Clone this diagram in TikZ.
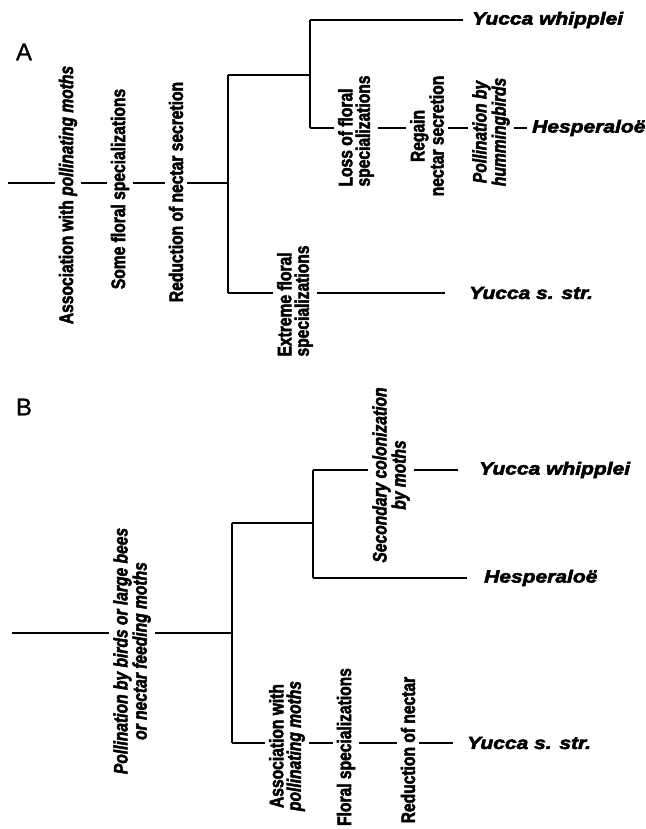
\documentclass[tikz,border=0pt]{standalone}
\usepackage{fontspec}
\setmainfont{Liberation Sans}
\newfontfamily\cf[FakeStretch=0.80,FakeBold=2.5,UprightFont={Liberation Sans Bold},ItalicFont={Liberation Sans Bold Italic}]{Liberation Sans}
\newfontfamily\tf[FakeStretch=1.2,FakeBold=3.2,UprightFont={Liberation Sans Bold Italic},ItalicFont={Liberation Sans Bold Italic}]{Liberation Sans}
\newfontfamily\pf[FakeBold=1.0]{Liberation Sans}
\begin{document}
\begin{tikzpicture}[x=1pt,y=-1pt,
  br/.style={line width=1.8pt},
  lbl/.style={rotate=90, font=\cf\fontsize{19.5}{17.5}\selectfont, inner sep=4pt, align=center},
  lbll/.style={lbl, align=left},
  taxon/.style={anchor=west, font=\tf\fontsize{17.5}{20}\selectfont, inner sep=0pt},
  panel/.style={font=\pf\fontsize{24}{24}\selectfont, inner sep=0pt}]
\useasboundingbox (0,0) rectangle (645,829);

% ---------------- Panel A ----------------
\node[panel] (labA) at (24,52) {A};
\coordinate (rA) at (8,183);
\node[lbl] (a1) at (68,195) {Association with \textit{pollinating moths}};
\node[lbl] (a2) at (120,189) {Some floral specializations};
\node[lbl] (a3) at (176,192) {Reduction of nectar secretion};
\coordinate (kA) at (228,183);
\coordinate (kAu) at (228,75);
\coordinate (kAd) at (228,293);
\coordinate (mA) at (310,75);
\coordinate (mAu) at (310,20);
\coordinate (mAd) at (310,128);
\node[taxon] (tA1) at (472,20) {Yucca whipplei};
\node[lbll] (a4) at (356,131) {Loss of floral\\specializations};
\node[lbl] (a5) at (427,136) {Regain\\nectar secretion};
\node[lbl] (a6) at (491,132) {\itshape Pollination by\\\itshape hummingbirds};
\node[taxon] (tA2) at (532,128) {Hesperalo\"e};
\node[lbll] (a7) at (295,301) {Extreme floral\\specializations};
\node[taxon] (tA3) at (469,293) {Yucca s. str.};

\draw[br] (rA) -- (rA -| a1.north);
\draw[br] (rA -| a1.south) -- (rA -| a2.north);
\draw[br] (rA -| a2.south) -- (rA -| a3.north);
\draw[br] (rA -| a3.south) -- (kA);
\draw[br] (kAu) -- (kAd);
\draw[br] (kAu) -- (mA);
\draw[br] (mAu) -- (mAd);
\draw[br, shorten >=9pt] (mAu) -- (tA1.west);
\draw[br] (mAd) -- (mAd -| a4.north);
\draw[br] (mAd -| a4.south) -- (mAd -| a5.north);
\draw[br] (mAd -| a5.south) -- (mAd -| a6.north);
\draw[br, shorten >=5pt] (mAd -| a6.south) -- (tA2.west);
\draw[br] (kAd) -- (kAd -| a7.north);
\draw[br, shorten >=24pt] (kAd -| a7.south) -- (tA3.west);

% ---------------- Panel B ----------------
\node[panel] (labB) at (24,407) {B};
\coordinate (rB) at (12,633);
\node[lbl] (b1) at (132,651) {\itshape Pollination by birds or large bees\\\itshape or nectar feeding moths};
\coordinate (kB) at (232,633);
\coordinate (kBu) at (232,523);
\coordinate (kBd) at (232,743);
\coordinate (mB) at (313,523);
\coordinate (mBu) at (313,470);
\coordinate (mBd) at (313,578);
\node[lbl] (b2) at (391,475) {\itshape Secondary colonization\\\itshape by moths};
\node[taxon] (tB1) at (479,470) {Yucca whipplei};
\node[taxon] (tB2) at (484,578) {Hesperalo\"e};
\node[lbl] (b3) at (287,746) {Association with\\\itshape pollinating moths};
\node[lbl] (b4) at (346,747) {Floral specializations};
\node[lbl] (b5) at (408,750) {Reduction of nectar};
\node[taxon] (tB3) at (467,743) {Yucca s. str.};

\draw[br] (rB) -- (rB -| b1.north);
\draw[br] (rB -| b1.south) -- (kB);
\draw[br] (kBu) -- (kBd);
\draw[br] (kBu) -- (mB);
\draw[br] (mBu) -- (mBd);
\draw[br] (mBu) -- (mBu -| b2.north);
\draw[br, shorten >=21pt] (mBu -| b2.south) -- (tB1.west);
\draw[br, shorten >=17pt] (mBd) -- (tB2.west);
\draw[br] (kBd) -- (kBd -| b3.north);
\draw[br] (kBd -| b3.south) -- (kBd -| b4.north);
\draw[br] (kBd -| b4.south) -- (kBd -| b5.north);
\draw[br, shorten >=14pt] (kBd -| b5.south) -- (tB3.west);
\end{tikzpicture}
\end{document}
